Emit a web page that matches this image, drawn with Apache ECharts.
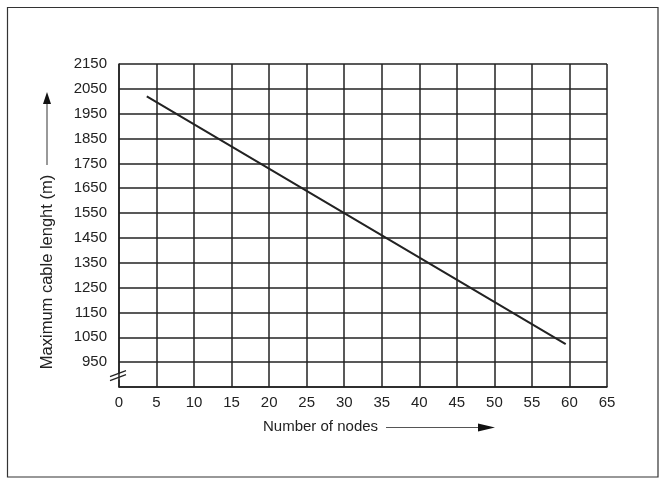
<!DOCTYPE html>
<html>
<head>
<meta charset="utf-8">
<script src="https://cdn.jsdelivr.net/npm/echarts@6/dist/echarts.min.js"></script>
<style>
html,body{margin:0;padding:0;background:#fff;}
#chart{width:659px;height:478px;}
</style>
</head>
<body>
<div id="chart"></div>
<script>
// ---- data ----
const nodes = [3.7, 30, 59.5];
const cableLength = [2020, 1550, 1023];
const xTickLabels = [0, 5, 10, 15, 20, 25, 30, 35, 40, 45, 50, 55, 60, 65];
const yTickLabels = [950, 1050, 1150, 1250, 1350, 1450, 1550, 1650, 1750, 1850, 1950, 2050, 2150];
const xAxisTitle = 'Number of nodes';
const yAxisTitle = 'Maximum cable lenght (m)';

const font = 'Liberation Sans, Arial, Helvetica, sans-serif';
const ink = '#222';

const chart = echarts.init(document.getElementById('chart'), null, {renderer: 'canvas'});

const option = {
  backgroundColor: '#fff',
  animation: false,
  grid: {left: 119, right: 52, top: 64, bottom: 91, containLabel: false},
  xAxis: {
    type: 'value',
    min: xTickLabels[0],
    max: xTickLabels[xTickLabels.length - 1],
    interval: 5,
    axisLine: {show: true, lineStyle: {color: ink, width: 1.5}},
    axisTick: {show: false},
    axisLabel: {color: ink, fontFamily: font, fontSize: 15, margin: 8,
      formatter: v => xTickLabels.includes(v) ? String(v) : ''},
    splitLine: {show: true, lineStyle: {color: ink, width: 1.5}}
  },
  yAxis: {
    type: 'value',
    min: 850,
    max: 2150,
    interval: 50,
    axisLine: {show: true, lineStyle: {color: ink, width: 1.5}},
    axisTick: {show: false},
    axisLabel: {color: ink, fontFamily: font, fontSize: 15, margin: 12,
      formatter: v => yTickLabels.includes(v) ? String(v) : ''},
    splitLine: {show: true, lineStyle: {color: [ink, 'rgba(0,0,0,0)'], width: 1.5}}
  },
  series: [{
    type: 'line',
    data: nodes.map((n, i) => [n, cableLength[i]]),
    showSymbol: false,
    symbol: 'none',
    lineStyle: {color: ink, width: 2},
    silent: true
  }]
};
chart.setOption(option);

// decorations: frame, axis titles with arrows, axis break mark
const p950 = chart.convertToPixel({gridIndex: 0}, [0, 950]);
const pBot = chart.convertToPixel({gridIndex: 0}, [0, 850]);
const bx = p950[0];
const by = (p950[1] + pBot[1]) / 2 + 2;

chart.setOption({
  graphic: [
    {type: 'rect', shape: {x: 7.5, y: 7.5, width: 650.5, height: 469.5},
      style: {fill: 'none', stroke: '#333', lineWidth: 1.2}, silent: true},
    // y title
    {type: 'text', x: 47, y: 272, rotation: Math.PI / 2,
      style: {text: yAxisTitle, fill: ink, font: '16.5px ' + font, align: 'center', verticalAlign: 'middle'}},
    {type: 'line', shape: {x1: 47, y1: 100, x2: 47, y2: 165}, style: {stroke: '#555', lineWidth: 1.2}},
    {type: 'polygon', shape: {points: [[47, 92], [43, 104], [51, 104]]}, style: {fill: '#111'}},
    // x title
    {type: 'text', x: 263, y: 427,
      style: {text: xAxisTitle, fill: ink, font: '15px ' + font, align: 'left', verticalAlign: 'middle'}},
    {type: 'line', shape: {x1: 386, y1: 427.5, x2: 482, y2: 427.5}, style: {stroke: '#555', lineWidth: 1.2}},
    {type: 'polygon', shape: {points: [[495, 427.5], [478, 423.5], [478, 431.5]]}, style: {fill: '#111'}},
    // axis break
    {type: 'rect', shape: {x: bx - 2, y: by - 3, width: 4, height: 6}, style: {fill: '#fff'}},
    {type: 'line', shape: {x1: bx - 9, y1: by, x2: bx + 7, y2: by - 6}, style: {stroke: ink, lineWidth: 1.2}},
    {type: 'line', shape: {x1: bx - 9, y1: by + 4, x2: bx + 7, y2: by - 2}, style: {stroke: ink, lineWidth: 1.2}}
  ]
});
</script>
</body>
</html>
